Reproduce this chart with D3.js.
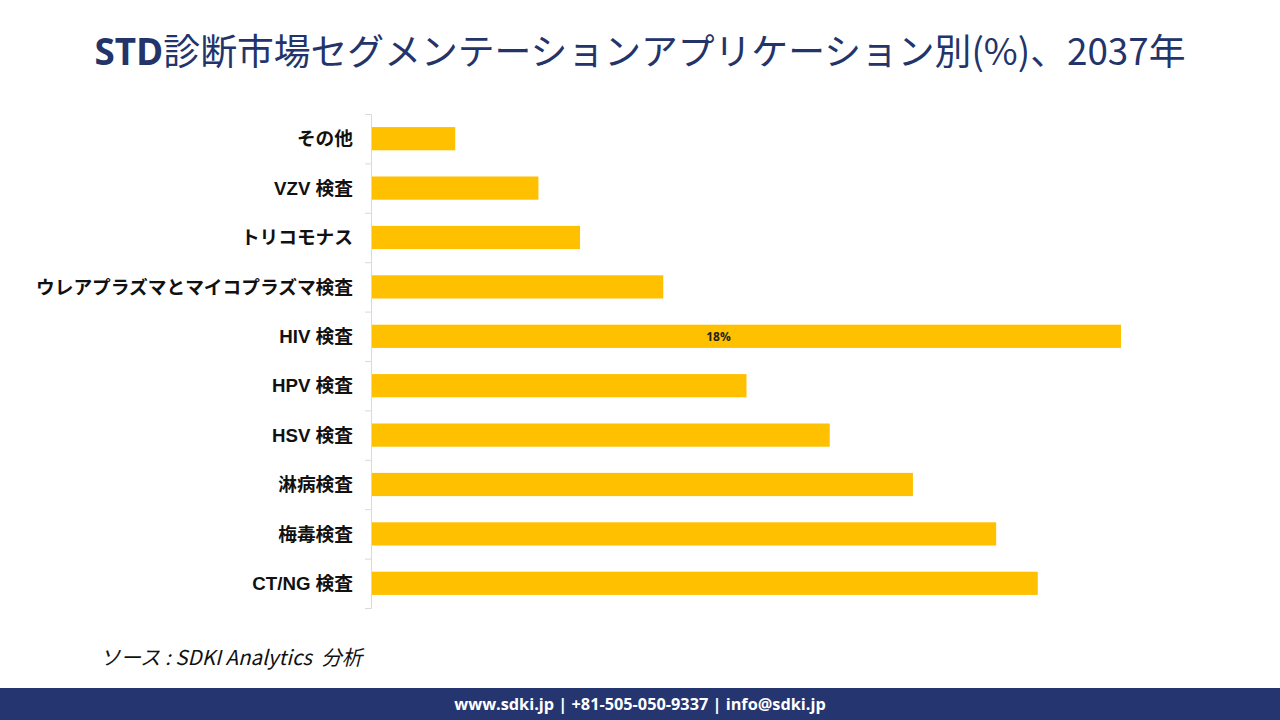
<!DOCTYPE html>
<html><head><meta charset="utf-8">
<script src="https://cdn.jsdelivr.net/npm/d3@7/dist/d3.min.js"></script>
<style>body{margin:0;background:#fff;} svg{display:block;}</style>
</head><body>
<svg id="chart" width="1280" height="720"></svg>
<script>
const categories = ["その他","VZV 検査","トリコモナス","ウレアプラズマとマイコプラズマ検査","HIV 検査","HPV 検査","HSV 検査","淋病検査","梅毒検査","CT/NG 検査"];
const values = [2,4,5,7,18,9,11,13,15,16];
const shownLabels = ["","","","","18%","","","","",""];
const titleMain = "STD";
const titleRest = "診断市場セグメンテーションアプリケーション別(%)、2037年";
const sourceText = "ソース : SDKI Analytics  分析";
const footerText = "www.sdki.jp | +81-505-050-9337 | info@sdki.jp";

const svg = d3.select("#chart");
const navy = "#23346b";
const jp = "'Noto Sans CJK JP','Noto Sans',sans-serif";
const lab = "'Liberation Sans','Noto Sans CJK JP',sans-serif";

// title
const t = svg.append("text").attr("x",640).attr("y",65).attr("text-anchor","middle")
  .attr("fill",navy).style("font-size","36.8px").style("font-family",jp);
t.append("tspan").text(titleMain).style("font-weight","700").style("font-family","'Open Sans','Noto Sans',sans-serif");
t.append("tspan").text(titleRest).style("font-weight","400");

const x0 = 371, plotTop = 114, plotBottom = 608;
const x = d3.scaleLinear().domain([0,18]).range([x0+1, 1121]);
const y = d3.scaleBand().domain(categories).range([plotTop, plotBottom]).paddingInner(0.53).paddingOuter(0.265);

// axis
const axis = d3.axisLeft(d3.scaleLinear().domain([0,10]).range([plotTop,plotBottom]))
  .ticks(10).tickSize(6).tickFormat("");
const ag = svg.append("g").attr("transform",`translate(${x0},0)`).call(axis);
ag.selectAll("path, line").attr("stroke","#d9d9d9");

svg.append("g").selectAll("rect").data(values).join("rect")
  .attr("x", x(0)).attr("y",(d,i)=>y(categories[i]))
  .attr("width", d=>x(d)-x(0)).attr("height", y.bandwidth())
  .attr("fill","#ffc000");

svg.append("g").selectAll("text").data(categories).join("text")
  .attr("x",353).attr("y",d=>y(d)+y.bandwidth()/2).attr("dy","0.36em")
  .attr("text-anchor","end").style("font-size","18.7px").style("font-weight","700")
  .style("font-family",lab).attr("fill","#111").text(d=>d);

svg.append("g").selectAll("text").data(values).join("text")
  .attr("x",(d,i)=>(x(0)+x(d))/2 - 28).attr("y",(d,i)=>y(categories[i])+y.bandwidth()/2).attr("dy","0.36em")
  .attr("text-anchor","middle").style("font-size","12px").style("font-weight","700")
  .style("font-family","'Open Sans','Noto Sans',sans-serif").attr("fill","#222")
  .text((d,i)=>shownLabels[i]);

svg.append("text").attr("x",100).attr("y",665).style("font-size","20.5px").style("font-style","italic")
  .style("font-family",jp).style("white-space","pre").attr("fill","#111").text(sourceText);

svg.append("rect").attr("x",0).attr("y",688).attr("width",1280).attr("height",32).attr("fill","#253570");
svg.append("text").attr("x",640).attr("y",710).attr("text-anchor","middle").attr("fill","#fff")
  .style("font-size","16.3px").style("font-weight","700").style("font-family","'Open Sans','Noto Sans',sans-serif")
  .text(footerText);
</script>
</body></html>
